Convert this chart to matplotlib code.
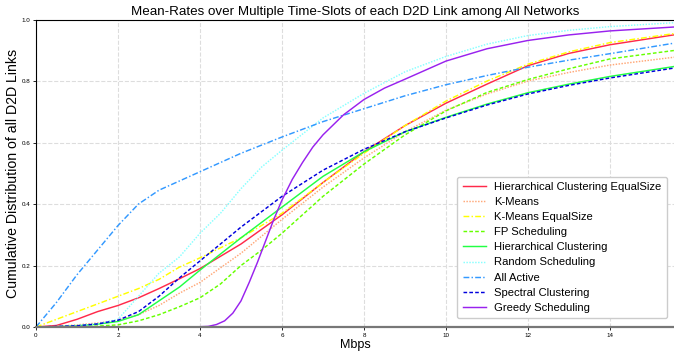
import numpy as np
import matplotlib.pyplot as plt

plt.rcParams["font.family"] = ["Liberation Sans", "DejaVu Sans"]

# CDF points (x in Mbps)
hc_eq_x = [0, 0.5, 1, 1.5, 2, 2.5, 3, 3.5, 4, 5, 6, 7, 8, 9, 10, 11, 12, 13, 14, 15.6]
hc_eq_y = [0, 0.005, 0.025, 0.05, 0.07, 0.095, 0.125, 0.157, 0.19, 0.27, 0.365, 0.47, 0.57, 0.655, 0.728, 0.79, 0.85, 0.89, 0.918, 0.951]

km_x = [0, 0.5, 1, 1.5, 2, 2.5, 3, 3.5, 4, 5, 6, 7, 8, 9, 10, 11, 12, 13, 14, 15.6]
km_y = [0, 0.002, 0.007, 0.013, 0.022, 0.04, 0.07, 0.11, 0.145, 0.24, 0.35, 0.455, 0.55, 0.635, 0.705, 0.758, 0.8, 0.828, 0.852, 0.878]

km_eq_x = [0, 0.5, 1, 1.5, 2, 2.5, 3, 3.5, 4, 5, 6, 7, 8, 9, 10, 11, 12, 13, 14, 15.6]
km_eq_y = [0, 0.025, 0.05, 0.075, 0.1, 0.125, 0.155, 0.195, 0.225, 0.29, 0.37, 0.47, 0.565, 0.655, 0.735, 0.8, 0.855, 0.895, 0.925, 0.955]

fp_x = [0, 1, 1.5, 2, 2.5, 3, 3.5, 4, 4.5, 5, 5.5, 6, 7, 8, 9, 10, 11, 12, 13, 14, 15.6]
fp_y = [0, 0.001, 0.003, 0.007, 0.02, 0.04, 0.066, 0.095, 0.14, 0.2, 0.25, 0.305, 0.425, 0.53, 0.625, 0.703, 0.763, 0.805, 0.84, 0.872, 0.9]

hc_x = [0, 0.5, 1, 1.5, 2, 2.5, 3, 3.5, 4, 5, 6, 7, 8, 9, 10, 11, 12, 13, 14, 15.6]
hc_y = [0, 0.001, 0.004, 0.009, 0.018, 0.04, 0.085, 0.13, 0.185, 0.29, 0.39, 0.49, 0.57, 0.635, 0.682, 0.725, 0.762, 0.79, 0.815, 0.848]

rand_x = [0, 0.5, 1, 1.5, 2, 2.5, 3, 3.5, 4, 4.5, 5, 5.5, 6, 7, 8, 9, 10, 11, 12, 13, 14, 15.6]
rand_y = [0, 0.001, 0.005, 0.01, 0.025, 0.1, 0.175, 0.228, 0.305, 0.37, 0.45, 0.52, 0.575, 0.68, 0.76, 0.83, 0.88, 0.92, 0.948, 0.965, 0.977, 0.99]

all_x = [0, 0.5, 1, 1.5, 2, 2.5, 3, 3.5, 4, 5, 6, 7, 8, 9, 10, 11, 12, 13, 14, 15.6]
all_y = [0, 0.08, 0.17, 0.25, 0.33, 0.4, 0.445, 0.475, 0.505, 0.565, 0.618, 0.668, 0.71, 0.752, 0.788, 0.818, 0.845, 0.868, 0.889, 0.924]

spec_x = [0, 1, 1.5, 2, 2.5, 3, 3.5, 4, 5, 6, 7, 8, 9, 10, 11, 12, 13, 14, 15.6]
spec_y = [0, 0.004, 0.01, 0.022, 0.05, 0.1, 0.16, 0.215, 0.325, 0.425, 0.51, 0.578, 0.635, 0.68, 0.722, 0.758, 0.786, 0.81, 0.843]

greedy_x = [0, 3.8, 4.2, 4.4, 4.6, 4.8, 5.0, 5.2, 5.4, 5.6, 5.8, 6.0, 6.25, 6.5, 6.75, 7, 7.5, 8, 8.5, 9, 10, 11, 12, 13, 14, 15.6]
greedy_y = [0, 0, 0.002, 0.008, 0.02, 0.045, 0.085, 0.145, 0.21, 0.28, 0.35, 0.413, 0.48, 0.535, 0.585, 0.625, 0.69, 0.74, 0.777, 0.806, 0.865, 0.905, 0.932, 0.95, 0.963, 0.976]

series = [
    ("Hierarchical Clustering EqualSize", hc_eq_x, hc_eq_y, "#ff2a4a", "-"),
    ("K-Means", km_x, km_y, "#ffa878", (0, (1, 1))),
    ("K-Means EqualSize", km_eq_x, km_eq_y, "#ffff00", (0, (4, 1.5, 1, 1.5))),
    ("FP Scheduling", fp_x, fp_y, "#66ff00", (0, (2.5, 1.5))),
    ("Hierarchical Clustering", hc_x, hc_y, "#22ff44", "-"),
    ("Random Scheduling", rand_x, rand_y, "#88ffff", (0, (1, 1))),
    ("All Active", all_x, all_y, "#3399ff", (0, (4, 1.5, 1, 1.5))),
    ("Spectral Clustering", spec_x, spec_y, "#0000dd", (0, (2.5, 1.5))),
    ("Greedy Scheduling", greedy_x, greedy_y, "#9922ee", "-"),
]

fig = plt.figure(figsize=(6.74, 3.52), dpi=100)
ax = fig.add_axes([0.0534, 0.071, 0.9466, 0.8735])

for label, xs, ys, color, ls in series:
    ax.plot(xs, ys, color=color, linestyle=ls, linewidth=1.05, label=label)

ax.set_xlim(0, 15.56)
ax.set_ylim(0, 1.0)
ax.set_xticks(np.arange(0, 15, 2))
ax.set_yticks(np.arange(0, 1.01, 0.2))
ax.set_yticklabels(["0.0", "0.2", "0.4", "0.6", "0.8", "1.0"])
ax.tick_params(labelsize=4.5, length=2, width=0.6, pad=2)
ax.grid(True, color="#dddddd", linestyle="--", linewidth=0.8)

ax.spines["left"].set_color("black")
ax.spines["top"].set_color("black")
ax.spines["bottom"].set_color("#777777")
ax.spines["bottom"].set_linewidth(1.6)
ax.spines["right"].set_visible(False)

ax.set_title("Mean-Rates over Multiple Time-Slots of each D2D Link among All Networks",
             fontsize=9.6, pad=3)
ax.set_xlabel("Mbps", fontsize=9, labelpad=1)
ax.set_ylabel("Cumulative Distribution of all D2D Links", fontsize=10.2, labelpad=1)

ax.legend(loc="lower right", fontsize=8.1, framealpha=1, handlelength=2.1,
          handletextpad=0.7, borderpad=0.5, labelspacing=0.45,
          bbox_to_anchor=(0.998, 0.01))

fig.savefig("out.png", dpi=100)
